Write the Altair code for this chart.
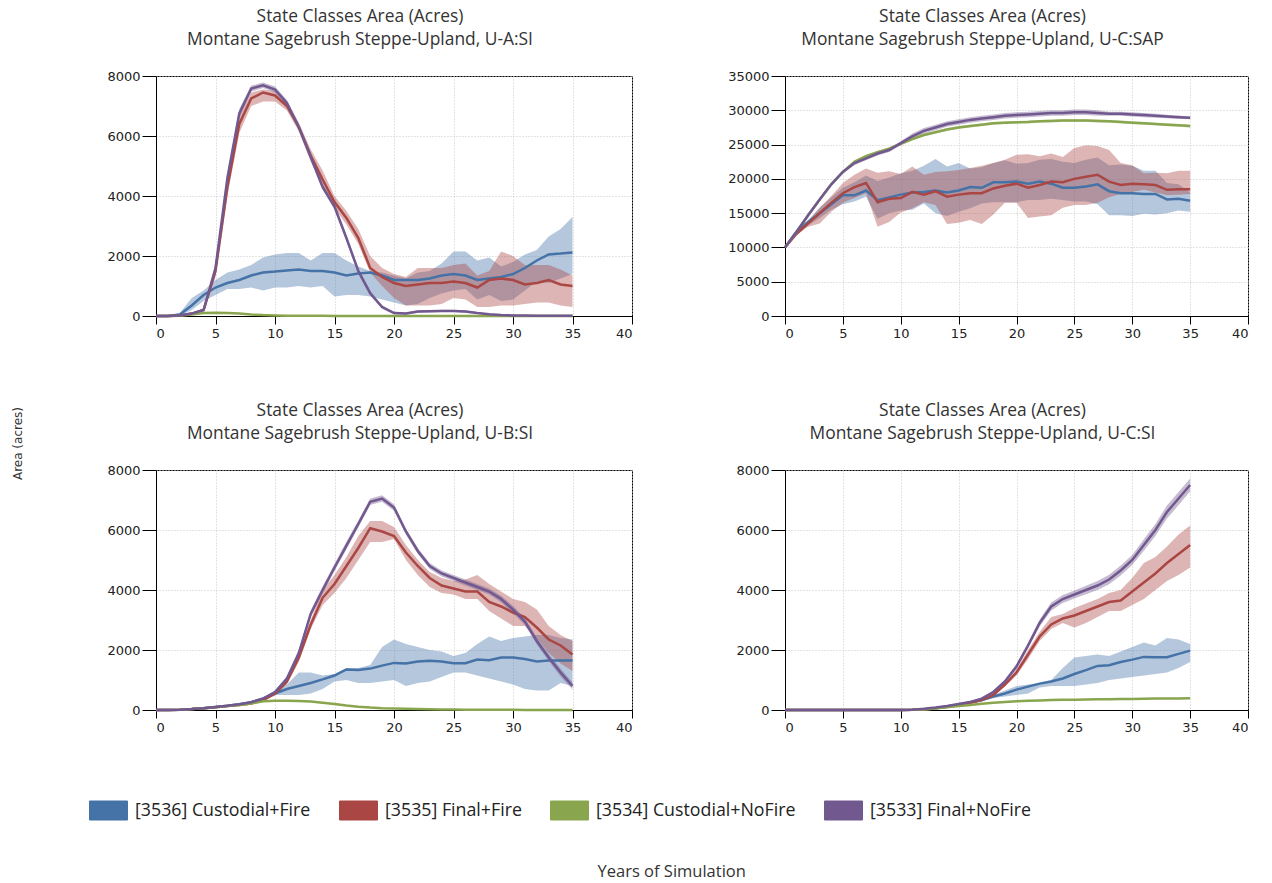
import altair as alt
import pandas as pd

YEARS = list(range(36))
SERIES = [
    "[3536] Custodial+Fire",
    "[3535] Final+Fire",
    "[3534] Custodial+NoFire",
    "[3533] Final+NoFire",
]
COLORS = ["#4572A7", "#AA4643", "#89A54E", "#71588F"]
TITLE = "State Classes Area (Acres)"
X_TICKS = [0, 5, 10, 15, 20, 25, 30, 35, 40]

# ---- U-A:SI ----------------------------------------------------------------
UA_BLUE_MEAN = [0, 0, 50, 350, 700, 950, 1100, 1200, 1350, 1450, 1480, 1520, 1550, 1500, 1500, 1450, 1350, 1420, 1450, 1350, 1200, 1200, 1200, 1250, 1350, 1400, 1350, 1200, 1250, 1300, 1400, 1600, 1850, 2050, 2080, 2120]
UA_BLUE_LO = [0, 0, 0, 200, 500, 700, 900, 900, 950, 850, 950, 950, 1000, 950, 1000, 650, 700, 700, 650, 550, 450, 350, 400, 600, 750, 850, 900, 550, 700, 500, 550, 850, 1150, 1100, 1250, 1400]
UA_BLUE_HI = [0, 0, 100, 600, 850, 1200, 1450, 1550, 1700, 1950, 2050, 2100, 2100, 1850, 2100, 2100, 1850, 1650, 1500, 1450, 1350, 1250, 1450, 1500, 1750, 2150, 2150, 1850, 1950, 1650, 1800, 2050, 2200, 2650, 2900, 3300]
UA_RED_MEAN = [0, 0, 20, 80, 200, 1500, 4300, 6400, 7250, 7450, 7350, 7000, 6300, 5350, 4550, 3800, 3270, 2600, 1600, 1300, 1100, 1000, 1050, 1100, 1100, 1150, 1100, 950, 1200, 1250, 1200, 1050, 1100, 1200, 1050, 1000]
UA_RED_LO = [0, 0, 10, 50, 150, 1300, 4000, 6100, 7000, 7150, 7150, 6850, 6150, 5150, 4350, 3600, 3050, 2400, 1450, 1000, 600, 350, 350, 350, 400, 600, 550, 300, 300, 350, 350, 400, 450, 450, 350, 300]
UA_RED_HI = [0, 0, 30, 110, 250, 1700, 4600, 6700, 7450, 7550, 7500, 7150, 6450, 5550, 4850, 4000, 3500, 2900, 2000, 1600, 1400, 1300, 1600, 1600, 1600, 1700, 1750, 1350, 1500, 2150, 2000, 1700, 1700, 1700, 1550, 1350]
UA_GREEN_MEAN = [0, 0, 10, 50, 100, 110, 100, 80, 50, 30, 20, 10, 8, 5, 5, 4, 3, 3, 2, 2, 2, 2, 2, 2, 2, 1, 1, 1, 1, 1, 1, 1, 1, 1, 1, 1]
UA_GREEN_LO = [0, 0, 5, 35, 80, 90, 85, 65, 40, 20, 12, 5, 4, 2, 2, 1, 1, 1, 0, 0, 0, 0, 0, 0, 0, 0, 0, 0, 0, 0, 0, 0, 0, 0, 0, 0]
UA_GREEN_HI = [0, 0, 15, 65, 120, 130, 115, 95, 60, 40, 28, 15, 12, 8, 8, 7, 5, 5, 4, 4, 4, 4, 4, 4, 4, 3, 3, 3, 3, 3, 3, 3, 3, 3, 3, 3]
UA_PURPLE_MEAN = [0, 0, 20, 80, 200, 1600, 4600, 6750, 7580, 7690, 7550, 7100, 6300, 5300, 4300, 3650, 2600, 1500, 760, 300, 100, 80, 150, 160, 170, 170, 150, 100, 60, 30, 20, 15, 10, 10, 10, 10]
UA_PURPLE_LO = [0, 0, 10, 60, 170, 1500, 4450, 6600, 7480, 7600, 7450, 7000, 6200, 5200, 4200, 3550, 2500, 1400, 680, 240, 60, 40, 110, 120, 130, 130, 110, 70, 35, 15, 8, 5, 3, 3, 3, 3]
UA_PURPLE_HI = [0, 0, 30, 100, 230, 1700, 4750, 6900, 7680, 7780, 7650, 7200, 6400, 5400, 4400, 3750, 2700, 1600, 840, 360, 140, 120, 190, 200, 210, 210, 190, 130, 85, 45, 32, 25, 17, 17, 17, 17]

# ---- U-C:SAP ---------------------------------------------------------------
UCSAP_BLUE_MEAN = [10000, 12300, 13700, 15000, 16300, 17600, 17600, 18300, 16900, 17300, 17700, 18000, 18100, 18300, 18000, 18300, 18800, 18700, 19500, 19500, 19600, 19300, 19600, 19300, 18700, 18700, 18900, 19200, 18200, 17900, 17900, 17800, 17800, 17000, 17100, 16800]
UCSAP_BLUE_LO = [10000, 12000, 13200, 14300, 15500, 16300, 16700, 17400, 14200, 15000, 15400, 15500, 16400, 15000, 14600, 15200, 15700, 16400, 16600, 16600, 16600, 16900, 16900, 17100, 16900, 16700, 16700, 16300, 14700, 14700, 14600, 14900, 14800, 15000, 15400, 15200]
UCSAP_BLUE_HI = [10000, 12500, 14000, 15800, 17300, 18700, 19500, 20500, 19700, 20200, 20800, 21200, 21900, 22900, 21800, 22300, 21500, 21700, 22300, 22700, 22200, 22300, 22800, 22900, 22500, 22300, 22800, 23100, 22000, 22100, 21900, 21200, 21200, 19400, 19200, 18000]
UCSAP_RED_MEAN = [10000, 12000, 13500, 15000, 16500, 17900, 18800, 19400, 16600, 17100, 17200, 18100, 17700, 18200, 17400, 17700, 17900, 17900, 18600, 19000, 19300, 18700, 19100, 19600, 19500, 20000, 20300, 20600, 19600, 19100, 19300, 19200, 19100, 18400, 18500, 18500]
UCSAP_RED_LO = [10000, 11800, 13000, 13500, 15200, 16500, 17200, 17900, 13000, 13700, 15100, 15700, 16600, 16200, 13400, 13600, 14000, 13400, 14800, 16500, 16500, 14300, 14500, 14700, 15800, 16200, 16200, 16500, 17300, 17800, 18100, 18400, 18000, 17600, 17700, 17800]
UCSAP_RED_HI = [10000, 12500, 13800, 15800, 17500, 19400, 20600, 21500, 20900, 21100, 20700, 21800, 20600, 21000, 21100, 21300, 21600, 21900, 22300, 22800, 23500, 23600, 23300, 23700, 23200, 24500, 24900, 24800, 24200, 22300, 22000, 20800, 20900, 20800, 21200, 21200]
UCSAP_GREEN_MEAN = [10000, 12300, 14700, 17000, 19200, 21000, 22500, 23300, 23900, 24400, 25100, 25800, 26400, 26800, 27200, 27500, 27700, 27900, 28100, 28200, 28250, 28300, 28400, 28450, 28500, 28500, 28500, 28450, 28400, 28300, 28200, 28100, 28000, 27900, 27800, 27700]
UCSAP_GREEN_LO = [10000, 12150, 14500, 16800, 19000, 20800, 22300, 23100, 23700, 24200, 24900, 25600, 26200, 26600, 27000, 27300, 27500, 27700, 27900, 28000, 28050, 28100, 28200, 28250, 28300, 28300, 28300, 28250, 28200, 28100, 28000, 27900, 27800, 27700, 27600, 27500]
UCSAP_GREEN_HI = [10000, 12450, 14900, 17200, 19400, 21200, 22700, 23500, 24100, 24600, 25300, 26000, 26600, 27000, 27400, 27700, 27900, 28100, 28300, 28400, 28450, 28500, 28600, 28650, 28700, 28700, 28700, 28650, 28600, 28500, 28400, 28300, 28200, 28100, 28000, 27900]
UCSAP_PURPLE_MEAN = [10000, 12300, 14700, 17000, 19200, 21000, 22300, 23000, 23700, 24200, 25200, 26200, 27000, 27500, 28000, 28300, 28600, 28800, 29000, 29200, 29300, 29400, 29500, 29600, 29600, 29700, 29700, 29600, 29500, 29500, 29400, 29300, 29200, 29100, 29000, 28900]
UCSAP_PURPLE_LO = [10000, 12100, 14500, 16800, 19000, 20800, 22000, 22700, 23400, 23900, 24900, 25900, 26600, 27100, 27600, 27900, 28200, 28400, 28600, 28800, 28900, 29000, 29100, 29200, 29200, 29300, 29300, 29200, 29200, 29200, 29100, 29000, 28900, 28850, 28750, 28700]
UCSAP_PURPLE_HI = [10000, 12500, 14900, 17200, 19400, 21200, 22600, 23300, 24000, 24500, 25500, 26600, 27400, 27900, 28400, 28700, 29000, 29200, 29400, 29600, 29700, 29800, 29900, 30000, 30000, 30100, 30100, 30000, 29800, 29800, 29700, 29600, 29500, 29350, 29250, 29100]

# ---- U-B:SI ----------------------------------------------------------------
UB_BLUE_MEAN = [0, 0, 10, 30, 60, 100, 140, 190, 260, 380, 550, 700, 800, 900, 1020, 1150, 1350, 1330, 1380, 1480, 1570, 1550, 1620, 1640, 1620, 1560, 1560, 1680, 1660, 1750, 1750, 1700, 1620, 1650, 1650, 1650]
UB_BLUE_LO = [0, 0, 5, 20, 45, 80, 115, 160, 220, 330, 500, 500, 500, 550, 700, 950, 1000, 900, 900, 950, 1000, 800, 900, 950, 1100, 1250, 1250, 1150, 1050, 950, 850, 700, 650, 650, 900, 800]
UB_BLUE_HI = [0, 0, 15, 40, 75, 120, 165, 220, 300, 430, 600, 850, 1250, 1250, 1150, 1200, 1400, 1400, 1500, 2100, 2350, 2200, 2100, 2000, 1950, 1800, 1900, 2200, 2450, 2300, 2400, 2450, 2500, 2500, 2400, 2350]
UB_RED_MEAN = [0, 0, 10, 30, 60, 90, 130, 170, 220, 330, 550, 950, 1750, 2840, 3740, 4200, 4800, 5400, 6060, 5950, 5800, 5250, 4800, 4400, 4150, 4050, 3950, 3950, 3600, 3450, 3250, 3100, 2750, 2350, 2150, 1850]
UB_RED_LO = [0, 0, 5, 20, 45, 70, 110, 145, 190, 290, 480, 850, 1600, 2700, 3500, 3900, 4400, 5000, 5600, 5600, 5700, 5000, 4500, 4100, 3900, 3850, 3700, 3700, 3300, 3050, 2800, 2800, 2400, 1900, 1550, 1300]
UB_RED_HI = [0, 0, 15, 40, 75, 110, 150, 195, 250, 370, 620, 1100, 1900, 3000, 4000, 4500, 5100, 5800, 6300, 6300, 6100, 5500, 5000, 4600, 4400, 4300, 4350, 4500, 4200, 3950, 3700, 3600, 3350, 2800, 2500, 2300]
UB_GREEN_MEAN = [0, 0, 10, 30, 60, 90, 130, 170, 220, 290, 310, 310, 300, 280, 240, 200, 150, 110, 80, 60, 50, 40, 30, 25, 20, 15, 10, 10, 8, 6, 5, 4, 3, 3, 2, 2]
UB_GREEN_LO = [0, 0, 5, 20, 45, 75, 110, 150, 195, 260, 280, 285, 275, 255, 220, 180, 135, 95, 70, 50, 40, 30, 22, 18, 14, 10, 6, 6, 5, 3, 2, 2, 1, 1, 1, 1]
UB_GREEN_HI = [0, 0, 15, 40, 75, 105, 150, 190, 245, 320, 340, 335, 325, 305, 260, 220, 165, 125, 90, 70, 60, 50, 38, 32, 26, 20, 14, 14, 11, 9, 8, 6, 5, 5, 3, 3]
UB_PURPLE_MEAN = [0, 0, 10, 30, 60, 100, 140, 190, 260, 380, 600, 1050, 1900, 3200, 4000, 4750, 5480, 6200, 6940, 7050, 6750, 5950, 5300, 4800, 4550, 4400, 4250, 4100, 3950, 3700, 3350, 2950, 2300, 1750, 1250, 800]
UB_PURPLE_LO = [0, 0, 5, 20, 45, 85, 120, 165, 230, 340, 550, 980, 1800, 3080, 3880, 4630, 5350, 6080, 6830, 6940, 6640, 5850, 5200, 4700, 4450, 4300, 4150, 4000, 3850, 3590, 3230, 2830, 2180, 1630, 1120, 680]
UB_PURPLE_HI = [0, 0, 15, 40, 75, 115, 160, 215, 290, 420, 650, 1120, 2000, 3320, 4120, 4870, 5610, 6320, 7050, 7160, 6860, 6050, 5400, 4900, 4650, 4500, 4350, 4200, 4050, 3810, 3470, 3070, 2420, 1870, 1380, 920]

# ---- U-C:SI ----------------------------------------------------------------
UCSI_BLUE_MEAN = [0, 0, 0, 0, 0, 0, 0, 0, 0, 0, 0, 5, 20, 60, 120, 180, 250, 330, 450, 550, 680, 780, 880, 950, 1050, 1200, 1330, 1470, 1490, 1600, 1680, 1770, 1760, 1760, 1870, 1980]
UCSI_BLUE_LO = [0, 0, 0, 0, 0, 0, 0, 0, 0, 0, 0, 3, 15, 50, 100, 150, 210, 280, 400, 450, 500, 550, 750, 800, 800, 800, 850, 900, 1000, 1050, 1100, 1150, 1200, 1250, 1400, 1600]
UCSI_BLUE_HI = [0, 0, 0, 0, 0, 0, 0, 0, 0, 0, 0, 8, 25, 70, 140, 210, 290, 380, 500, 650, 800, 850, 900, 1000, 1400, 1750, 1800, 1850, 1800, 1950, 2100, 2250, 2150, 2400, 2350, 2200]
UCSI_RED_MEAN = [0, 0, 0, 0, 0, 0, 0, 0, 0, 0, 0, 5, 20, 60, 110, 170, 240, 330, 500, 850, 1250, 1850, 2450, 2850, 3050, 3150, 3300, 3450, 3600, 3650, 3950, 4250, 4550, 4900, 5200, 5500]
UCSI_RED_LO = [0, 0, 0, 0, 0, 0, 0, 0, 0, 0, 0, 2, 15, 50, 95, 150, 215, 300, 450, 780, 1150, 1700, 2300, 2700, 2900, 2750, 2900, 3100, 3300, 3300, 3500, 3700, 4000, 4300, 4500, 4750]
UCSI_RED_HI = [0, 0, 0, 0, 0, 0, 0, 0, 0, 0, 0, 8, 25, 70, 125, 190, 265, 360, 550, 920, 1350, 2000, 2600, 3100, 3200, 3400, 3550, 3700, 3900, 4000, 4400, 4900, 5100, 5450, 5850, 6150]
UCSI_GREEN_MEAN = [0, 0, 0, 0, 0, 0, 0, 0, 0, 0, 0, 5, 20, 50, 90, 130, 170, 210, 240, 270, 290, 310, 320, 330, 340, 345, 350, 355, 360, 365, 370, 375, 380, 385, 385, 390]
UCSI_GREEN_LO = [0, 0, 0, 0, 0, 0, 0, 0, 0, 0, 0, 2, 15, 42, 80, 118, 156, 195, 224, 253, 272, 292, 302, 312, 322, 327, 332, 337, 342, 347, 352, 357, 362, 367, 367, 372]
UCSI_GREEN_HI = [0, 0, 0, 0, 0, 0, 0, 0, 0, 0, 0, 8, 25, 58, 100, 142, 184, 225, 256, 287, 308, 328, 338, 348, 358, 363, 368, 373, 378, 383, 388, 393, 398, 403, 403, 408]
UCSI_PURPLE_MEAN = [0, 0, 0, 0, 0, 0, 0, 0, 0, 0, 0, 10, 40, 80, 130, 200, 270, 380, 600, 950, 1450, 2150, 2900, 3450, 3700, 3850, 4000, 4150, 4350, 4650, 5000, 5500, 6000, 6600, 7050, 7500]
UCSI_PURPLE_LO = [0, 0, 0, 0, 0, 0, 0, 0, 0, 0, 0, 5, 30, 65, 110, 175, 240, 340, 550, 880, 1370, 2050, 2780, 3320, 3570, 3720, 3860, 4000, 4190, 4480, 4830, 5310, 5800, 6380, 6830, 7280]
UCSI_PURPLE_HI = [0, 0, 0, 0, 0, 0, 0, 0, 0, 0, 0, 15, 50, 95, 150, 225, 300, 420, 650, 1020, 1530, 2250, 3020, 3580, 3830, 3980, 4140, 4300, 4510, 4820, 5170, 5690, 6200, 6820, 7270, 7720]


def build_frame(blocks):
    rows = []
    for name, (mean, lo, hi) in zip(SERIES, blocks):
        for t, m, a, b in zip(YEARS, mean, lo, hi):
            rows.append({"year": t, "series": name, "mean": m, "lo": a, "hi": b})
    return pd.DataFrame(rows)


# Wide rectangular swatches with a dark outline, laid out in one row under the grid.
LEGEND = alt.Legend(
    title=None,
    orient="none",
    legendX=-67,
    legendY=715,
    direction="horizontal",
    columns=4,
    symbolType="M-1,-0.5L1,-0.5L1,0.5L-1,0.5Z",
    symbolSize=1444,
    symbolStrokeColor="#333333",
    symbolStrokeWidth=1,
    symbolOpacity=1,
    labelFont="Open Sans",
    labelFontSize=17.8,
    labelColor="#222222",
    labelOffset=7,
    labelLimit=400,
    columnPadding=26,
)


def panel(blocks, subtitle, ymax, ystep, width):
    df = build_frame(blocks)
    x = alt.X(
        "year:Q",
        scale=alt.Scale(domain=[0, 40], nice=False, zero=False),
        axis=alt.Axis(values=X_TICKS, title=None, format="d"),
    )
    yscale = alt.Scale(domain=[0, ymax], nice=False)
    yaxis = alt.Axis(values=list(range(0, ymax + 1, ystep)), title=None, format="d")
    band = alt.Chart(df).mark_area(opacity=0.4).encode(
        x=x,
        y=alt.Y("lo:Q", scale=yscale, axis=yaxis),
        y2="hi:Q",
        color=alt.Color("series:N", scale=alt.Scale(domain=SERIES, range=COLORS), legend=LEGEND),
    )
    line = alt.Chart(df).mark_line(strokeWidth=2.5).encode(
        x=x,
        y=alt.Y("mean:Q", scale=yscale, axis=yaxis),
        color=alt.Color("series:N", scale=alt.Scale(domain=SERIES, range=COLORS), legend=None),
    )
    return alt.layer(band, line).properties(
        width=width,
        height=240,
        title=alt.TitleParams(
            text=[TITLE, subtitle],
            fontSize=17.4,
            font="Open Sans",
            fontWeight="normal",
            color="#333333",
            lineHeight=23,
            offset=22,
            anchor="middle",
            frame="group",
            dx=-34,
        ),
    )


p1 = panel(
    [(UA_BLUE_MEAN, UA_BLUE_LO, UA_BLUE_HI), (UA_RED_MEAN, UA_RED_LO, UA_RED_HI),
     (UA_GREEN_MEAN, UA_GREEN_LO, UA_GREEN_HI), (UA_PURPLE_MEAN, UA_PURPLE_LO, UA_PURPLE_HI)],
    "Montane Sagebrush Steppe-Upland, U-A:SI", 8000, 2000, 476)
p2 = panel(
    [(UCSAP_BLUE_MEAN, UCSAP_BLUE_LO, UCSAP_BLUE_HI), (UCSAP_RED_MEAN, UCSAP_RED_LO, UCSAP_RED_HI),
     (UCSAP_GREEN_MEAN, UCSAP_GREEN_LO, UCSAP_GREEN_HI), (UCSAP_PURPLE_MEAN, UCSAP_PURPLE_LO, UCSAP_PURPLE_HI)],
    "Montane Sagebrush Steppe-Upland, U-C:SAP", 35000, 5000, 463)
p3 = panel(
    [(UB_BLUE_MEAN, UB_BLUE_LO, UB_BLUE_HI), (UB_RED_MEAN, UB_RED_LO, UB_RED_HI),
     (UB_GREEN_MEAN, UB_GREEN_LO, UB_GREEN_HI), (UB_PURPLE_MEAN, UB_PURPLE_LO, UB_PURPLE_HI)],
    "Montane Sagebrush Steppe-Upland, U-B:SI", 8000, 2000, 476)
p4 = panel(
    [(UCSI_BLUE_MEAN, UCSI_BLUE_LO, UCSI_BLUE_HI), (UCSI_RED_MEAN, UCSI_RED_LO, UCSI_RED_HI),
     (UCSI_GREEN_MEAN, UCSI_GREEN_LO, UCSI_GREEN_HI), (UCSI_PURPLE_MEAN, UCSI_PURPLE_LO, UCSI_PURPLE_HI)],
    "Montane Sagebrush Steppe-Upland, U-C:SI", 8000, 2000, 463)

row1 = alt.hconcat(p1, p2, spacing=94)
row2 = alt.hconcat(p3, p4, spacing=102)

grid = alt.vconcat(row1, row2, spacing=60).properties(
    title=alt.TitleParams(
        "Years of Simulation",
        orient="bottom",
        fontSize=16.5,
        font="Open Sans",
        fontWeight="normal",
        color="#333333",
        offset=129,
        anchor="middle",
        dx=-6,
    )
)

chart = alt.hconcat(grid).properties(
    title=alt.TitleParams(
        "Area (acres)",
        orient="left",
        fontSize=12,
        font="DejaVu Sans",
        fontWeight="normal",
        color="#333333",
        offset=64,
        anchor="middle",
    ),
    padding={"left": 12, "top": 7, "right": 5, "bottom": 5},
).configure_view(
    stroke="#000000", strokeWidth=1
).configure_axis(
    domainColor="#000000",
    domainWidth=1,
    tickColor="#000000",
    labelFont="DejaVu Sans",
    labelFontSize=13,
    labelColor="#222222",
    gridColor="#c8c8c8",
    gridDash=[1, 2],
    gridWidth=1,
).configure_axisY(
    tickSize=14, labelPadding=2
).configure_axisX(
    tickSize=8, labelPadding=3
).configure_concat(spacing=20)

chart.save("out.html", embed_options={"renderer": "svg", "actions": False})
